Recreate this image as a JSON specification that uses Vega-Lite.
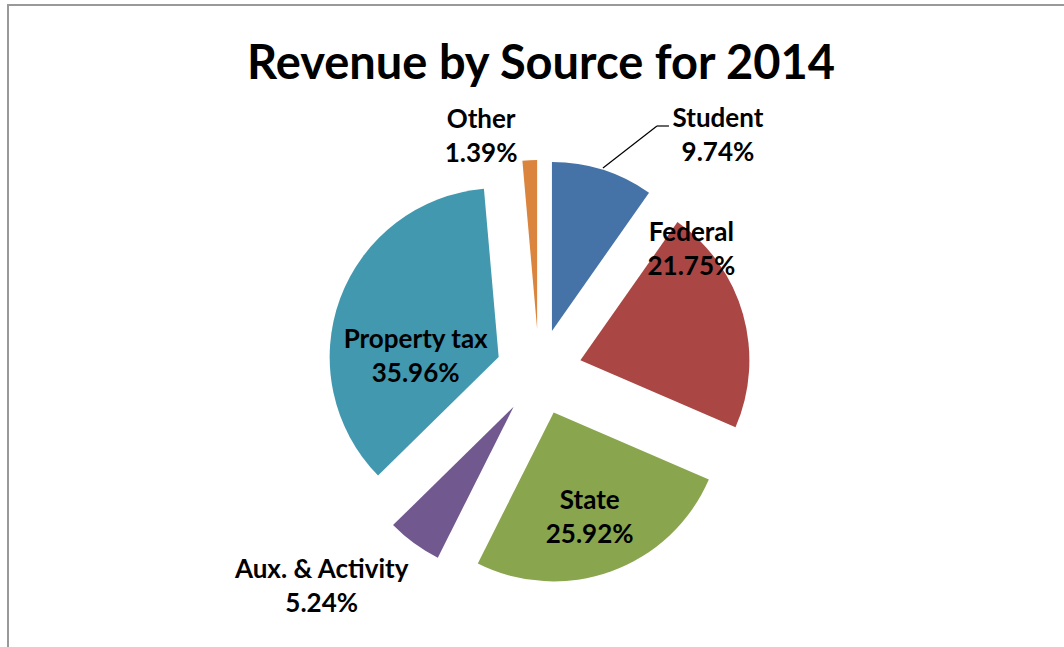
{
  "$schema": "https://vega.github.io/schema/vega-lite/v6.json",
  "width": 1056,
  "height": 642,
  "autosize": "none",
  "padding": {"left": 8, "top": 5, "right": 0, "bottom": 0},
  "background": "white",
  "config": {"view": {"stroke": "#999999", "strokeWidth": 2, "strokeDash": [1056, 1698, 642, 1]}},
  "title": {
    "text": "Revenue by Source for 2014",
    "font": "Lato",
    "fontSize": 47,
    "fontWeight": "bold",
    "color": "black",
    "frame": "group",
    "anchor": "middle",
    "offset": -121,
    "baseline": "alphabetic",
    "dx": 5
  },
  "data": {
    "values": [
      {"source": "Student", "share": 9.74, "order": 1},
      {"source": "Federal", "share": 21.75, "order": 2},
      {"source": "State", "share": 25.92, "order": 3},
      {"source": "Aux. & Activity", "share": 5.24, "order": 4},
      {"source": "Property tax", "share": 35.96, "order": 5},
      {"source": "Other", "share": 1.39, "order": 6}
    ]
  },
  "transform": [
    {"stack": "share", "groupby": [], "sort": [{"field": "order", "order": "ascending"}], "as": ["t0", "t1"]},
    {"calculate": "PI * (datum.t0 + datum.t1) / 100", "as": "mid"},
    {"calculate": "sin(datum.mid)", "as": "ux"},
    {"calculate": "cos(datum.mid)", "as": "uy"},
    {"calculate": "datum.source + '\\n' + format(datum.share, '.2f') + '%'", "as": "label"}
  ],
  "encoding": {
    "x": {"field": "ux", "type": "quantitative", "stack": null, "axis": null, "scale": {"domain": [-1, 1], "range": [488, 574], "zero": false, "nice": false}},
    "y": {"field": "uy", "type": "quantitative", "stack": null, "axis": null, "scale": {"domain": [-1, 1], "range": [410, 324], "zero": false, "nice": false}}
  },
  "layer": [
    {
      "mark": {"type": "arc", "radius": 169, "strokeWidth": 0},
      "encoding": {
        "theta": {"field": "t0", "type": "quantitative", "stack": null, "scale": {"domain": [0, 100], "range": [0, 6.283185307179586]}},
        "theta2": {"field": "t1"},
        "color": {
          "field": "source",
          "type": "nominal",
          "legend": null,
          "scale": {
            "domain": ["Student", "Federal", "State", "Aux. & Activity", "Property tax", "Other"],
            "range": ["#4572A7", "#AA4643", "#89A54E", "#71588F", "#4198AF", "#DB843D"]
          }
        }
      }
    },
    {
      "transform": [{"filter": "datum.source === 'Student'"}],
      "mark": {"type": "rule", "color": "black", "strokeWidth": 1.2, "xOffset": 51, "yOffset": -163, "x2Offset": 105, "y2Offset": -205},
      "encoding": {"x2": {"field": "ux"}, "y2": {"field": "uy"}}
    },
    {
      "transform": [{"filter": "datum.source === 'Student'"}],
      "mark": {"type": "rule", "color": "black", "strokeWidth": 1.2, "xOffset": 105, "yOffset": -205, "x2Offset": 117, "y2Offset": -205},
      "encoding": {"x2": {"field": "ux"}, "y2": {"field": "uy"}}
    },
    {
      "encoding": {"text": {"field": "label"}},
      "layer": [
        {"transform": [{"filter": "datum.source === 'Student'"}], "mark": {"type": "text", "font": "Lato", "fontSize": 26, "fontWeight": "bold", "color": "black", "align": "center", "baseline": "middle", "lineBreak": "\n", "lineHeight": 34, "dx": 166, "dy": -212}},
        {"transform": [{"filter": "datum.source === 'Federal'"}], "mark": {"type": "text", "font": "Lato", "fontSize": 26, "fontWeight": "bold", "color": "black", "align": "center", "baseline": "middle", "lineBreak": "\n", "lineHeight": 34, "dx": 111, "dy": -127}},
        {"transform": [{"filter": "datum.source === 'State'"}], "mark": {"type": "text", "font": "Lato", "fontSize": 26, "fontWeight": "bold", "color": "black", "align": "center", "baseline": "middle", "lineBreak": "\n", "lineHeight": 34, "dx": 36, "dy": 89}},
        {"transform": [{"filter": "datum.source === 'Aux. & Activity'"}], "mark": {"type": "text", "font": "Lato", "fontSize": 26, "fontWeight": "bold", "color": "black", "align": "center", "baseline": "middle", "lineBreak": "\n", "lineHeight": 34, "dx": -192, "dy": 163}},
        {"transform": [{"filter": "datum.source === 'Property tax'"}], "mark": {"type": "text", "font": "Lato", "fontSize": 26, "fontWeight": "bold", "color": "black", "align": "center", "baseline": "middle", "lineBreak": "\n", "lineHeight": 34, "dx": -83, "dy": -17}},
        {"transform": [{"filter": "datum.source === 'Other'"}], "mark": {"type": "text", "font": "Lato", "fontSize": 26, "fontWeight": "bold", "color": "black", "align": "center", "baseline": "middle", "lineBreak": "\n", "lineHeight": 34, "dx": -56, "dy": -209}}
      ]
    }
  ]
}
